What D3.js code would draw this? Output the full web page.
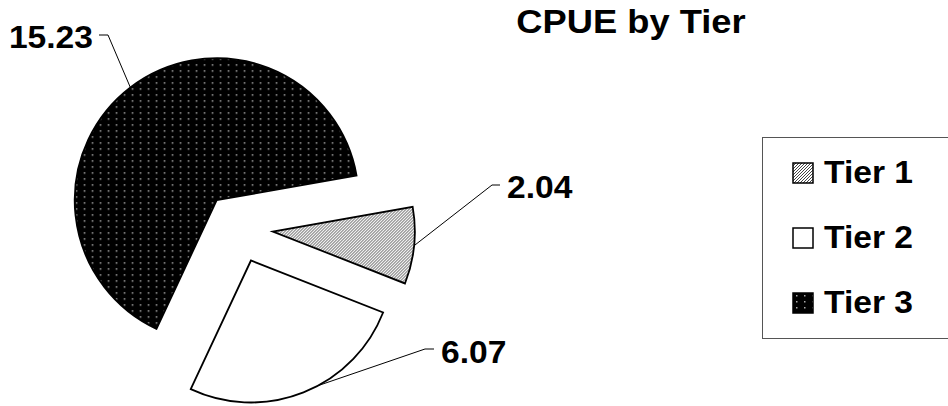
<!DOCTYPE html>
<html>
<head>
<meta charset="utf-8">
<script src="https://cdn.jsdelivr.net/npm/d3@7/dist/d3.min.js"></script>
<style>
  body { margin: 0; background: #fff; }
  text { font-family: Arial, "Liberation Sans", sans-serif; font-weight: bold; fill: #000; }
</style>
</head>
<body>
<div id="pie"></div>
<script>
// Chart data
var tiers = ["Tier 1", "Tier 2", "Tier 3"];
var cpue = [2.04, 6.07, 15.23];
var valueLabels = ["2.04", "6.07", "15.23"];

var svgWidth = 948;
var svgHeight = 406;

// Pie layout
var center = { x: 238, y: 228 };
var radius = 142;
var explode = 35;
var firstSliceAngle = 80; // degrees, clockwise from 12 o'clock

// Where each label sits (text start/end, leader elbow, point along the slice arc)
var labelLayout = [
    { tx: 507, ty: 198, anchor: "start", elbowX: 492, elbowY: 185, lineX: 500, frac: 0.5 },
    { tx: 441, ty: 363, anchor: "start", elbowX: 425, elbowY: 349, lineX: 434, frac: 0.43 },
    { tx: 93, ty: 48, anchor: "end", elbowX: 108, elbowY: 35, lineX: 99, frac: 0.5 }
];

var svg = d3.select("#pie")
    .append("svg")
    .attr("width", svgWidth)
    .attr("height", svgHeight);

// Fill patterns
var defs = svg.append("defs");

// upward diagonal hatch for tier 1
var hatch = defs.append("pattern")
    .attr("id", "hatch")
    .attr("patternUnits", "userSpaceOnUse")
    .attr("width", 3)
    .attr("height", 3);
hatch.append("rect").attr("width", 3).attr("height", 3).attr("fill", "#fff");
hatch.append("path")
    .attr("d", "M-1,4L4,-1M-1,1L1,-1M2,4L4,2")
    .attr("stroke", "#444")
    .attr("stroke-width", 1);

// dotted black for tier 3
var dots = defs.append("pattern")
    .attr("id", "dots")
    .attr("patternUnits", "userSpaceOnUse")
    .attr("width", 8)
    .attr("height", 6);
dots.append("rect").attr("width", 8).attr("height", 6).attr("fill", "#000");
dots.append("rect").attr("x", 3).attr("y", 2).attr("width", 1.5).attr("height", 1.5).attr("fill", "#aaa");

var fills = ["url(#hatch)", "#fff", "url(#dots)"];

// Build the slices
var pie = d3.pie()
    .sort(null)
    .startAngle(firstSliceAngle * Math.PI / 180)
    .endAngle(firstSliceAngle * Math.PI / 180 + 2 * Math.PI);

var arcs = pie(cpue);

var arc = d3.arc()
    .innerRadius(0)
    .outerRadius(radius);

function offset(d) {
    var mid = (d.startAngle + d.endAngle) / 2;
    return [explode * Math.sin(mid), -explode * Math.cos(mid)];
}

var pieGroup = svg.append("g")
    .attr("transform", `translate(${center.x}, ${center.y})`);

pieGroup.selectAll("path")
    .data(arcs)
    .enter()
    .append("path")
    .attr("transform", d => `translate(${offset(d)[0]}, ${offset(d)[1]})`)
    .attr("d", arc)
    .attr("fill", (d, i) => fills[i])
    .attr("stroke", "#000")
    .attr("stroke-width", 1.8)
    .attr("stroke-linejoin", "miter");

// Leader lines and value labels
var labelGroup = svg.append("g");

arcs.forEach(function(d, i) {
    var lay = labelLayout[i];
    var a = d.startAngle + (d.endAngle - d.startAngle) * lay.frac;
    var off = offset(d);
    var px = center.x + off[0] + radius * Math.sin(a);
    var py = center.y + off[1] - radius * Math.cos(a);

    labelGroup.append("polyline")
        .attr("points", `${lay.lineX},${lay.elbowY} ${lay.elbowX},${lay.elbowY} ${px},${py}`)
        .attr("fill", "none")
        .attr("stroke", "#000")
        .attr("stroke-width", 1);

    labelGroup.append("text")
        .attr("x", lay.tx)
        .attr("y", lay.ty)
        .attr("text-anchor", lay.anchor)
        .attr("font-size", 32)
        .text(valueLabels[i]);
});

// Title
svg.append("text")
    .attr("class", "title")
    .attr("x", 631)
    .attr("y", 33)
    .attr("text-anchor", "middle")
    .attr("font-size", 33)
    .text("CPUE by Tier");

// Legend
var legend = svg.append("g")
    .attr("transform", "translate(762, 137)");

legend.append("rect")
    .attr("x", 0.5)
    .attr("y", 0.5)
    .attr("width", 220)
    .attr("height", 201)
    .attr("fill", "#fff")
    .attr("stroke", "#555")
    .attr("stroke-width", 1);

var items = legend.selectAll("g.item")
    .data(tiers)
    .enter()
    .append("g")
    .attr("class", "item")
    .attr("transform", (d, i) => `translate(31, ${26 + i * 65})`);

items.append("rect")
    .attr("width", 20)
    .attr("height", 20)
    .attr("fill", (d, i) => fills[i])
    .attr("stroke", "#000")
    .attr("stroke-width", 1.5);

items.append("text")
    .attr("x", 31)
    .attr("y", 20)
    .attr("font-size", 32)
    .text(d => d);

// Widen the text a little, like the original rendering
svg.selectAll("text").each(function() {
    var t = d3.select(this);
    var factor = t.classed("title") ? 1.1 : 1.05;
    var w = this.getComputedTextLength();
    t.attr("textLength", w * factor).attr("lengthAdjust", "spacingAndGlyphs");
});
</script>
</body>
</html>
